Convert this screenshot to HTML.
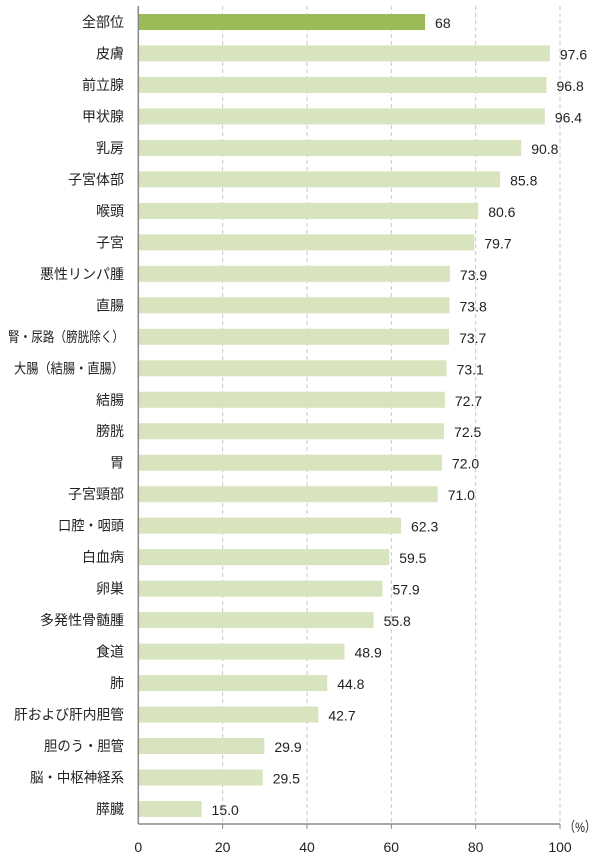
<!DOCTYPE html><html><head><meta charset="utf-8"><style>body{margin:0;background:#fff}svg text{font-family:"Liberation Sans","Noto Sans CJK JP",sans-serif;font-size:14px;fill:#222}</style></head><body>
<svg width="600" height="859" xmlns="http://www.w3.org/2000/svg" id="s"></svg>
<script>
const d=[["全部位",68,"68"],["皮膚",97.6],["前立腺",96.8],["甲状腺",96.4],["乳房",90.8],["子宮体部",85.8],["喉頭",80.6],["子宮",79.7],["悪性リンパ腫",73.9],["直腸",73.8],["腎・尿路（膀胱除く）",73.7,0,116],["大腸（結腸・直腸）",73.1,0,110],["結腸",72.7],["膀胱",72.5],["胃",72.0],["子宮頸部",71.0],["口腔・咽頭",62.3,0,66],["白血病",59.5],["卵巣",57.9],["多発性骨髄腫",55.8],["食道",48.9],["肺",44.8],["肝および肝内胆管",42.7,0,110],["胆のう・胆管",29.9,0,80],["脳・中枢神経系",29.5,0,94],["膵臓",15.0]];
const x0=138.3,sc=4.217;let h="";
for(let v=20;v<=100;v+=20){const x=x0+v*sc;h+=`<line x1="${x}" y1="6" x2="${x}" y2="824" stroke="#c8c8c8" stroke-dasharray="4,3"/><line x1="${x}" y1="824" x2="${x}" y2="829" stroke="#888"/>`;}
d.forEach((r,i)=>{const y=14+i*31.48;const w=r[1]*sc;h+=`<rect x="${x0}" y="${y}" width="${w}" height="16" fill="${i?'#d7e4bd':'#9bbb59'}"/>`;
const tl=r[3]?` textLength="${r[3]}" lengthAdjust="spacingAndGlyphs"`:"";
h+=`<text x="124" y="${y+13}" text-anchor="end"${tl}>${r[0]}</text><text x="${x0+w+10}" y="${y+14}">${r[2]||r[1].toFixed(1)}</text>`;});
h+=`<line x1="${x0}" y1="6" x2="${x0}" y2="824" stroke="#888" stroke-width="1.5"/><line x1="${x0}" y1="824" x2="${x0+100*sc}" y2="824" stroke="#888" stroke-width="1.5"/>`;
for(let v=0;v<=100;v+=20)h+=`<text x="${x0+v*sc}" y="852" text-anchor="middle">${v}</text>`;
h+=`<text x="564" y="832" textLength="32" lengthAdjust="spacingAndGlyphs">（%）</text>`;
document.getElementById("s").innerHTML=h;
</script></body></html>
